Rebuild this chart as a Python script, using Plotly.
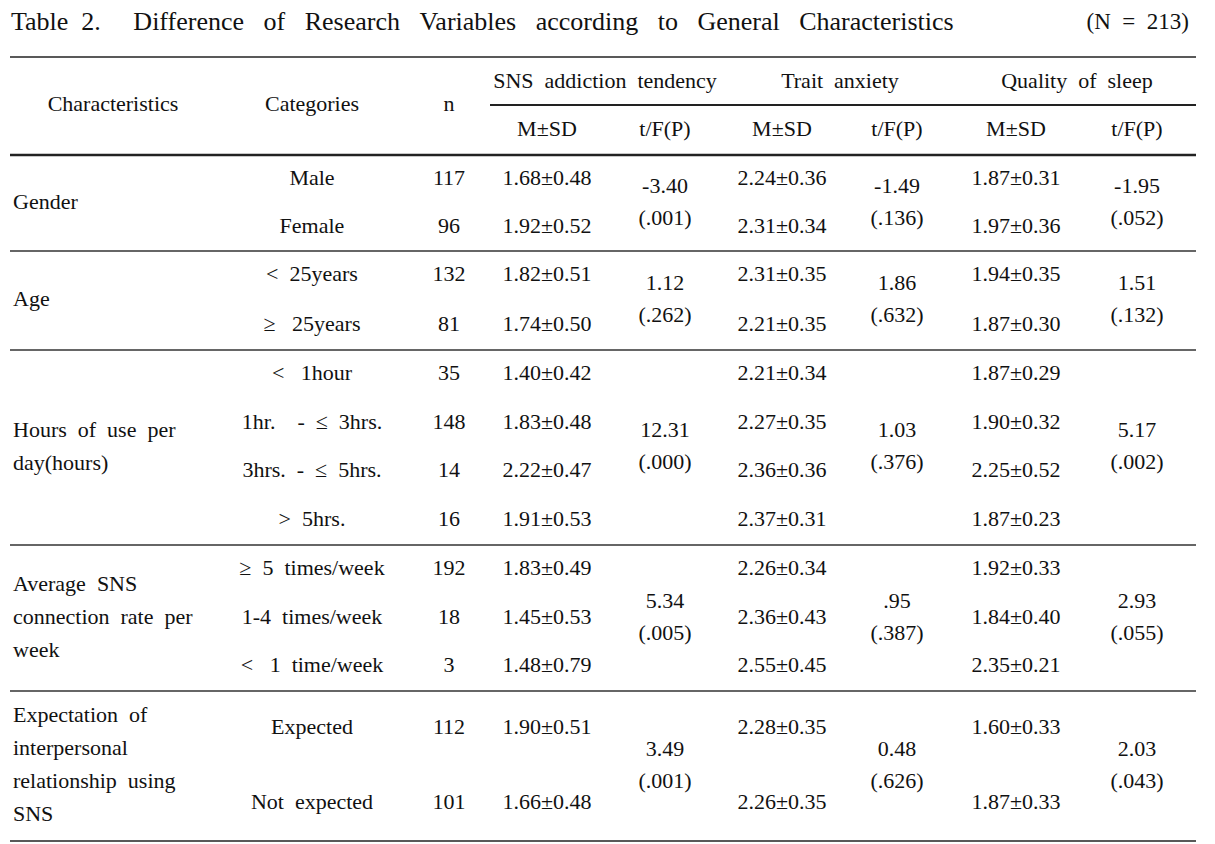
import plotly.graph_objects as go

# ---------------- data ----------------
SP3 = "\u00a0\u00a0\u00a0"
title_words = ["Table", "2.", "Difference", "of", "Research", "Variables", "according", "to", "General", "Characteristics"]
title_text = "Table\u00a0\u00a02." + "\u00a0" * 5 + SP3.join(title_words[2:])
n_total_text = "(N\u00a0\u00a0=\u00a0\u00a0213)"

header_main = ["Characteristics", "Categories", "n"]
variable_names = ["SNS\u00a0\u00a0addiction\u00a0\u00a0tendency", "Trait\u00a0\u00a0anxiety", "Quality\u00a0\u00a0of\u00a0\u00a0sleep"]
sub_headers = ["M±SD", "t/F(P)", "M±SD", "t/F(P)", "M±SD", "t/F(P)"]

characteristics = [
    ["Gender"],
    ["Age"],
    ["Hours\u00a0\u00a0of\u00a0\u00a0use\u00a0\u00a0per", "day(hours)"],
    ["Average\u00a0\u00a0SNS", "connection\u00a0\u00a0rate\u00a0\u00a0per", "week"],
    ["Expectation\u00a0\u00a0of", "interpersonal", "relationship\u00a0\u00a0using", "SNS"],
]
categories = [
    ["Male", "Female"],
    ["<\u00a0\u00a025years", "≥\u00a0\u00a0\u00a025years"],
    ["<\u00a0\u00a0\u00a01hour", "1hr.\u00a0\u00a0\u00a0\u00a0-\u00a0\u00a0≤\u00a0\u00a03hrs.", "3hrs.\u00a0\u00a0-\u00a0\u00a0≤\u00a0\u00a05hrs.", ">\u00a0\u00a05hrs."],
    ["≥\u00a0\u00a05\u00a0\u00a0times/week", "1-4\u00a0\u00a0times/week", "<\u00a0\u00a0\u00a01\u00a0\u00a0time/week"],
    ["Expected", "Not\u00a0\u00a0expected"],
]
n_values = [[117, 96], [132, 81], [35, 148, 14, 16], [192, 18, 3], [112, 101]]

sns_msd = [["1.68±0.48", "1.92±0.52"], ["1.82±0.51", "1.74±0.50"],
           ["1.40±0.42", "1.83±0.48", "2.22±0.47", "1.91±0.53"],
           ["1.83±0.49", "1.45±0.53", "1.48±0.79"], ["1.90±0.51", "1.66±0.48"]]
anx_msd = [["2.24±0.36", "2.31±0.34"], ["2.31±0.35", "2.21±0.35"],
           ["2.21±0.34", "2.27±0.35", "2.36±0.36", "2.37±0.31"],
           ["2.26±0.34", "2.36±0.43", "2.55±0.45"], ["2.28±0.35", "2.26±0.35"]]
slp_msd = [["1.87±0.31", "1.97±0.36"], ["1.94±0.35", "1.87±0.30"],
           ["1.87±0.29", "1.90±0.32", "2.25±0.52", "1.87±0.23"],
           ["1.92±0.33", "1.84±0.40", "2.35±0.21"], ["1.60±0.33", "1.87±0.33"]]

sns_tf = [("-3.40", "(.001)"), ("1.12", "(.262)"), ("12.31", "(.000)"), ("5.34", "(.005)"), ("3.49", "(.001)")]
anx_tf = [("-1.49", "(.136)"), ("1.86", "(.632)"), ("1.03", "(.376)"), (".95", "(.387)"), ("0.48", "(.626)")]
slp_tf = [("-1.95", "(.052)"), ("1.51", "(.132)"), ("5.17", "(.002)"), ("2.93", "(.055)"), ("2.03", "(.043)")]

# ---------------- layout constants (page pixel space) ----------------
W, H = 1215, 844
PAGE_OFFSET = 8  # default body margin of the html page
FONT = "Liberation Serif"
FS = 22
COLOR = "#111111"
X_LEFT, X_RIGHT = 10, 1196
X_CHAR = 15
X_CAT = 312
X_N = 449
X_COLS = [547, 665, 782, 897, 1016, 1137]
X_GROUP = [605, 840, 1077]
Y_TITLE = 23
Y_TOP_RULE = 57
Y_GROUP_HDR = 82
Y_GROUP_RULE = 105
Y_SUB_HDR = 130
Y_MAIN_HDR = 105
BOUNDS = [155, 251, 350, 545, 691, 841]
CHAR_LINE = 33
TF_HALF = 16

fig = go.Figure()

def add_text(xs, ys, texts, pos="middle center", size=FS):
    fig.add_trace(go.Scatter(
        x=xs, y=ys, text=texts, mode="text", textposition=pos,
        textfont=dict(family=FONT, size=size, color=COLOR),
        hoverinfo="skip", showlegend=False, cliponaxis=False))

# title
add_text([X_LEFT + 1], [Y_TITLE], [title_text], pos="middle right", size=26)
add_text([1189], [Y_TITLE], [n_total_text], pos="middle left", size=23)

# headers
add_text([113, X_CAT, X_N], [Y_MAIN_HDR] * 3, header_main)
add_text(X_GROUP, [Y_GROUP_HDR] * 3, variable_names)
add_text(X_COLS, [Y_SUB_HDR] * 6, sub_headers)

# body
for g in range(len(categories)):
    top, bot = BOUNDS[g], BOUNDS[g + 1]
    k = len(categories[g])
    step = (bot - top) / k
    ys = [top + step * (i + 0.5) for i in range(k)]
    mid = (top + bot) / 2
    add_text([X_CAT] * k, ys, categories[g])
    add_text([X_N] * k, ys, [str(v) for v in n_values[g]])
    add_text([X_COLS[0]] * k, ys, sns_msd[g])
    add_text([X_COLS[2]] * k, ys, anx_msd[g])
    add_text([X_COLS[4]] * k, ys, slp_msd[g])
    for col, tf in zip([X_COLS[1], X_COLS[3], X_COLS[5]], [sns_tf, anx_tf, slp_tf]):
        add_text([col, col], [mid - TF_HALF, mid + TF_HALF], list(tf[g]))
    lines = characteristics[g]
    m = len(lines)
    cy = [mid + CHAR_LINE * (j - (m - 1) / 2) for j in range(m)]
    add_text([X_CHAR - 2] * m, cy, lines, pos="middle right")

# rules
def hline(y, x0=X_LEFT, x1=X_RIGHT, width=1.2, color="#222222"):
    fig.add_shape(type="line", x0=x0, x1=x1, y0=y, y1=y, xref="x", yref="y",
                  line=dict(color=color, width=width))

hline(Y_TOP_RULE, width=1.3)
hline(Y_GROUP_RULE, x0=490, width=2.2)
hline(BOUNDS[0], width=2.6)
for b in BOUNDS[1:-1]:
    hline(b, width=1.3, color="#333333")
hline(BOUNDS[-1], width=1.5)

fig.update_layout(
    width=W, height=H, margin=dict(l=0, r=0, t=0, b=0),
    paper_bgcolor="white", plot_bgcolor="white",
    xaxis=dict(range=[PAGE_OFFSET, W + PAGE_OFFSET], visible=False, fixedrange=True),
    yaxis=dict(range=[H + PAGE_OFFSET, PAGE_OFFSET], visible=False, fixedrange=True),
    showlegend=False,
)

fig.write_html("out.html")
